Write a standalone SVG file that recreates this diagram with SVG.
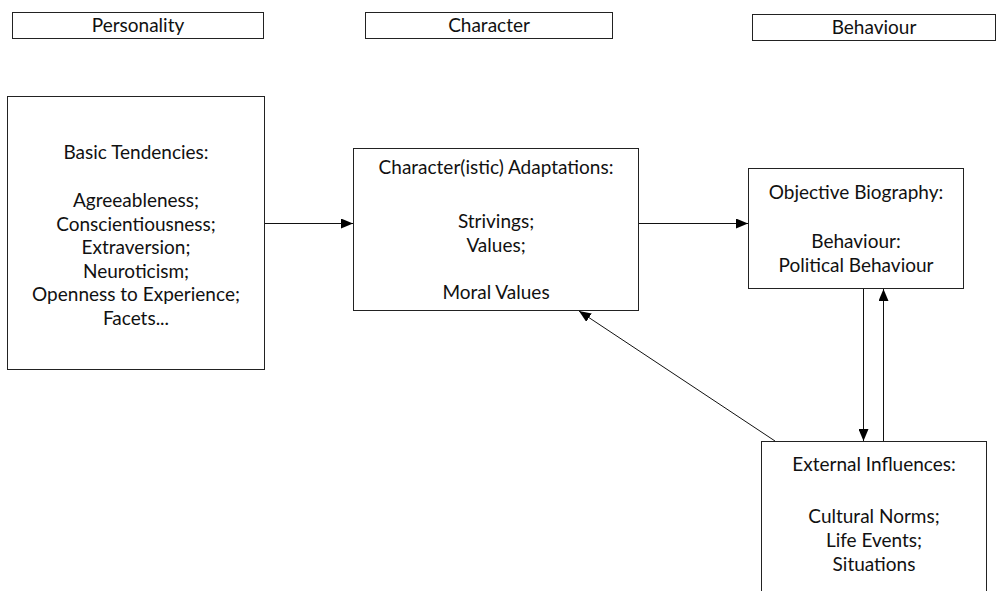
<svg xmlns="http://www.w3.org/2000/svg" width="1001" height="591" viewBox="0 0 1001 591">
<style>
.box{fill:#fff;stroke:#222;stroke-width:1}
.t{font-family:Lato,"Open Sans",sans-serif;font-size:19px;fill:#111;text-anchor:middle}
.ln{stroke:#111;stroke-width:1;fill:none}
</style>
<defs>
<marker id="ah" markerWidth="12" markerHeight="10" refX="12" refY="5" orient="auto" markerUnits="userSpaceOnUse">
<path d="M0,0 L12,5 L0,10 Z" fill="#000"/>
</marker>
</defs>
<g id="hdr-personality"><rect class="box" x="12.5" y="12.5" width="251" height="26"/><text class="t" x="138" y="32">Personality</text></g>
<g id="hdr-character"><rect class="box" x="365.5" y="12.5" width="247" height="26"/><text class="t" x="489" y="32">Character</text></g>
<g id="hdr-behaviour"><rect class="box" x="752.5" y="14.5" width="243" height="26"/><text class="t" x="874" y="34">Behaviour</text></g>
<g id="basic"><rect class="box" x="7.5" y="96.5" width="257" height="273"/>
<text class="t" x="136" y="159">Basic Tendencies:</text>
<text class="t" x="136" y="207">Agreeableness;</text>
<text class="t" x="136" y="230.5">Conscientiousness;</text>
<text class="t" x="136" y="254">Extraversion;</text>
<text class="t" x="136" y="277.5">Neuroticism;</text>
<text class="t" x="136" y="301">Openness to Experience;</text>
<text class="t" x="136" y="324.5">Facets...</text>
</g>
<g id="adapt"><rect class="box" x="353.5" y="148.5" width="285" height="162"/>
<text class="t" x="496" y="174">Character(istic) Adaptations:</text>
<text class="t" x="496" y="228">Strivings;</text>
<text class="t" x="496" y="251.5">Values;</text>
<text class="t" x="496" y="299">Moral Values</text>
</g>
<g id="bio"><rect class="box" x="748.5" y="168.5" width="215" height="120"/>
<text class="t" x="856" y="199">Objective Biography:</text>
<text class="t" x="856" y="248">Behaviour:</text>
<text class="t" x="856" y="272">Political Behaviour</text>
</g>
<g id="ext"><rect class="box" x="761.5" y="441.5" width="225" height="160"/>
<text class="t" x="874" y="471">External Influences:</text>
<text class="t" x="874" y="523">Cultural Norms;</text>
<text class="t" x="874" y="547">Life Events;</text>
<text class="t" x="874" y="571">Situations</text>
</g>
<g id="connectors">
<line class="ln" x1="265" y1="223.5" x2="353" y2="223.5" marker-end="url(#ah)"/>
<line class="ln" x1="639" y1="223.5" x2="748" y2="223.5" marker-end="url(#ah)"/>
<line class="ln" x1="863.5" y1="289" x2="863.5" y2="441" marker-end="url(#ah)"/>
<line class="ln" x1="883.5" y1="441" x2="883.5" y2="289" marker-end="url(#ah)"/>
<line class="ln" x1="775" y1="441" x2="579" y2="311" marker-end="url(#ah)"/>
</g>
</svg>
